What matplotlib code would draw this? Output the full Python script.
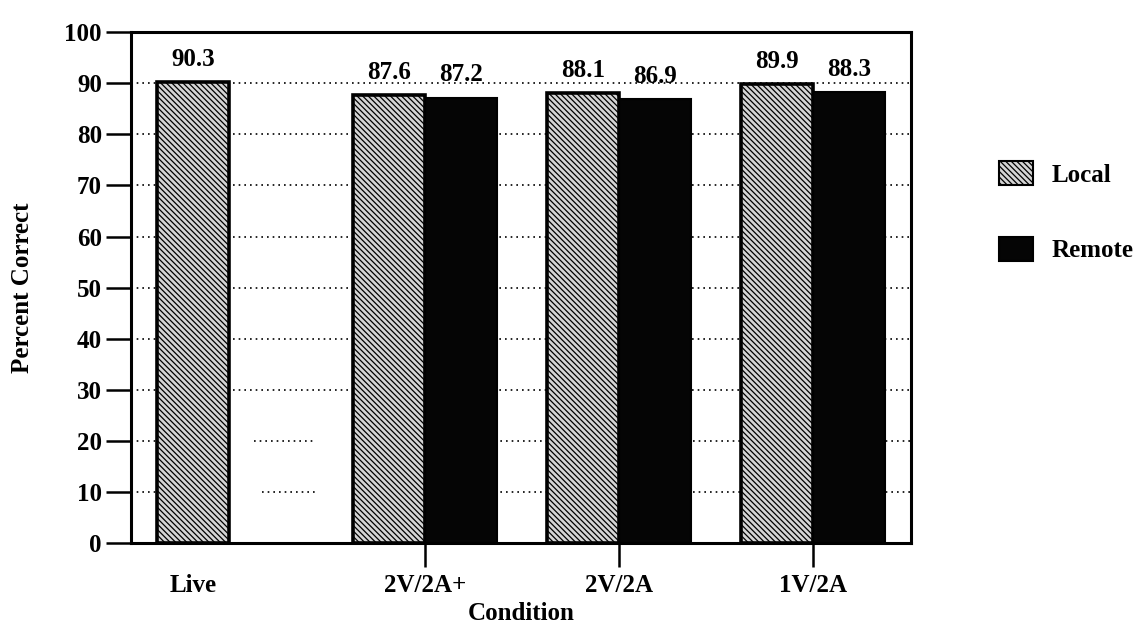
import matplotlib
matplotlib.use("Agg")
import matplotlib.pyplot as plt
from matplotlib.patches import Patch

# data
conditions = ["Live", "2V/2A+", "2V/2A", "1V/2A"]
local_vals = [90.3, 87.6, 88.1, 89.9]
remote_vals = [None, 87.2, 86.9, 88.3]
yticks = list(range(0, 101, 10))

plt.rcParams["font.family"] = ["Liberation Serif", "DejaVu Serif"]
plt.rcParams["font.weight"] = "bold"
plt.rcParams["axes.labelweight"] = "bold"
plt.rcParams["hatch.color"] = "#6a6a6a"
plt.rcParams["hatch.linewidth"] = 0.9

fig = plt.figure(figsize=(11.42, 6.3), dpi=100)
ax = fig.add_axes([0.1147, 0.138, 0.683, 0.811])

# group centres (Live sits a bit closer to the left edge)
xpos = [-0.193, 1.0, 2.0, 3.0]
w = 0.371
local_fc = "#d4d4d4"
remote_fc = "#050505"
fs = 18

for i, cond in enumerate(conditions):
    if remote_vals[i] is None:
        xl = xpos[i]
    else:
        xl = xpos[i] - w / 2
    ax.bar(xl, local_vals[i], width=w, color=local_fc, hatch="\\\\\\\\\\\\",
           edgecolor="black", linewidth=2.6, zorder=3)
    ax.annotate(f"{local_vals[i]:.1f}", (xl, local_vals[i]), xytext=(0, 8),
                textcoords="offset points", ha="center", va="bottom", fontsize=fs)
    if remote_vals[i] is not None:
        xr = xpos[i] + w / 2
        ax.bar(xr, remote_vals[i], width=w, color=remote_fc,
               edgecolor="black", linewidth=1.5, zorder=3)
        ax.annotate(f"{remote_vals[i]:.1f}", (xr, remote_vals[i]), xytext=(0, 8),
                    textcoords="offset points", ha="center", va="bottom", fontsize=fs)

# dotted grid lines behind the bars
xmin, xmax = -0.515, 3.505
dots = (0, (1, 2.4))
for yv in yticks[1:-1]:
    if yv in (10, 20):
        # the scanned copy loses these two lines in the empty gap
        segs = [(xmin, 0.0), (0.12 if yv == 20 else 0.16, 0.44), (0.63, xmax)]
    else:
        segs = [(xmin, xmax)]
    for a, b in segs:
        ax.hlines(yv, a, b, colors="black", linestyles=dots, linewidth=1.2, zorder=1)

ax.set_xlim(xmin, xmax)
ax.set_ylim(0, 100)
ax.set_yticks(yticks)
ax.set_yticklabels([str(t) for t in yticks], fontsize=fs)
ax.tick_params(axis="y", direction="out", length=18, width=1.8, pad=3)

ax.set_xticks(xpos)
ax.set_xticklabels(conditions, fontsize=fs)
ax.tick_params(axis="x", direction="out", length=17, width=1.8, pad=5)
ax.xaxis.get_major_ticks()[0].tick1line.set_visible(False)

for sp in ax.spines.values():
    sp.set_linewidth(2.2)

ax.set_ylabel("Percent Correct", fontsize=fs, fontweight="bold", va="center")
ax.yaxis.set_label_coords(-0.139, 0.5)
ax.set_xlabel("Condition", fontsize=fs, fontweight="bold", va="center")
ax.xaxis.set_label_coords(0.5, -0.137)

handles = [Patch(facecolor=local_fc, hatch="\\\\\\\\\\\\", edgecolor="black", linewidth=1.5, label="Local"),
           Patch(facecolor=remote_fc, edgecolor="black", linewidth=1.5, label="Remote")]
fig.legend(handles=handles, loc="upper left", bbox_to_anchor=(0.8748, 0.745),
           frameon=False, handlelength=1.36, handleheight=1.15,
           labelspacing=2.0, handletextpad=0.76, borderpad=0, borderaxespad=0,
           prop={"weight": "bold", "size": fs})

fig.savefig("out.png", dpi=100)
